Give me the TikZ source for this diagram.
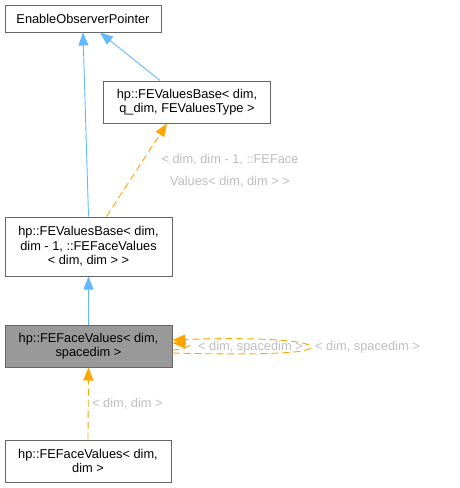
\documentclass[tikz,border=0pt]{standalone}
\usepackage{fontspec}
\setmainfont{Liberation Sans}
\usetikzlibrary{arrows.meta}

\definecolor{edgeblue}{HTML}{63B8FF}
\definecolor{edgeorange}{HTML}{FFA500}
\definecolor{boxline}{HTML}{666666}
\definecolor{labelgrey}{HTML}{BEBEBE}

\tikzstyle{classbox}=[draw=boxline,line width=1pt,fill=white,inner sep=0pt,align=center,font=\fontsize{12.8}{14.5}\selectfont]
\tikzstyle{inherit}=[edgeblue,line width=0.9pt,-{Triangle[length=13pt,width=10pt]}]
\tikzstyle{templ}=[edgeorange,line width=0.9pt,dash pattern=on 7pt off 4pt,-{Triangle[length=13pt,width=10pt]}]
\tikzstyle{tlabel}=[labelgrey,inner sep=0pt,align=center,font=\fontsize{12.8}{22}\selectfont]

\begin{document}
\begin{tikzpicture}[x=1pt,y=-1pt]
\useasboundingbox (0,0) rectangle (459,488);

\node[classbox,minimum width=156pt,minimum height=27pt] (eop) at (83,18.5) {EnableObserverPointer};
\node[classbox,minimum width=167pt,minimum height=42pt] (base1) at (187,102) {hp::FEValuesBase< dim,\\ q\_dim, FEValuesType >};
\node[classbox,minimum width=167pt,minimum height=59pt] (base2) at (88.5,246.5) {hp::FEValuesBase< dim,\\ dim - 1, ::FEFaceValues\\ < dim, dim > >};
\node[classbox,fill=gray!80,minimum width=167pt,minimum height=42pt] (face) at (88.5,346) {hp::FEFaceValues< dim,\\ spacedim >};
\node[classbox,minimum width=166pt,minimum height=42pt] (facedim) at (88,461) {hp::FEFaceValues< dim,\\ dim >};

\draw[inherit] (base1.north) ++(-27,0) -- ([xshift=17pt]eop.south);
\draw[inherit] (base2.north) -- ([xshift=0pt]eop.south);
\draw[inherit] (face.north) -- (base2.south);

\draw[templ] ([xshift=18pt]base2.north) -- ([xshift=-20pt]base1.south);
\node[tlabel] (lbl1) at (230,171) {< dim, dim - 1, ::FEFace\\ Values< dim, dim > >};

\draw[templ] (facedim.north) -- (face.south);
\node[tlabel,anchor=west] (lbl2) at (92,404) {< dim, dim >};

% self loops
\draw[templ] ([yshift=-7pt]face.east) .. controls (250,355) and (312,354) .. (311,347)
  .. controls (310,340) and (250,337) .. ([yshift=6pt]face.east);
\draw[templ] ([yshift=-4pt]face.east) .. controls (188,349) and (194,344) .. ([yshift=3pt]face.east);
\node[tlabel,anchor=west] (lbl3) at (198,347) {< dim, spacedim >};
\node[tlabel,anchor=west] (lbl4) at (315,347) {< dim, spacedim >};
\end{tikzpicture}
\end{document}
